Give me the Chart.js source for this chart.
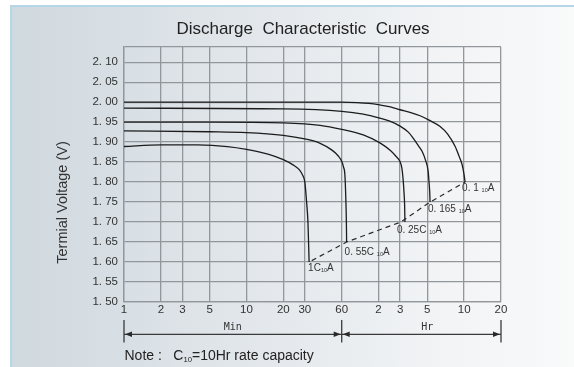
<!DOCTYPE html>
<html>
<head>
<meta charset="utf-8">
<script src="https://cdn.jsdelivr.net/npm/chart.js@4.4.0/dist/chart.umd.min.js"></script>
<style>
    html, body { margin: 0; padding: 0; background: #fff; }
    body { width: 574px; height: 367px; position: relative; overflow: hidden; }
    #painel {
        position: absolute; left: 10px; top: 5px; right: 0; bottom: 0;
        border-top: 2px solid #b5d6e6; border-left: 2px solid #b5d6e6;
        background: linear-gradient(to right, #d0d9df 0%, #e1e6ea 40%, #f1f3f5 75%, #f9fafa 100%);
    }
    #chartDescarga { position: absolute; left: 0; top: 0; }
</style>
</head>
<body>
<div id="painel"></div>
<canvas id="chartDescarga" width="574" height="367"></canvas>
<script>
// eixo x em minutos (escala log), rotulos como no grafico original
const tempos = [1, 2, 3, 5, 10, 20, 30, 60, 120, 180, 300, 600, 1200]
const rotulosTempo = ['1', '2', '3', '5', '10', '20', '30', '60', '2', '3', '5', '10', '20']
const tensoes = [1.50, 1.55, 1.60, 1.65, 1.70, 1.75, 1.80, 1.85, 1.90, 1.95, 2.00, 2.05, 2.10]
const tensaoMax = 2.138

// curvas [minutos, volts]
const curva1C = [[1, 1.889], [2, 1.893], [4, 1.893], [7, 1.889], [10, 1.882], [15, 1.870], [20, 1.856], [24, 1.843], [27, 1.831], [29, 1.815], [30, 1.80], [31, 1.75], [31.8, 1.70], [32.5, 1.60]]
const curva055C = [[1, 1.928], [5, 1.926], [10, 1.924], [20, 1.917], [30, 1.908], [40, 1.897], [50, 1.880], [56, 1.866], [60, 1.852], [62, 1.838], [63.7, 1.818], [64.8, 1.76], [65.5, 1.70], [65.8, 1.65]]
const curva025C = [[1, 1.95], [5, 1.95], [20, 1.948], [40, 1.942], [60, 1.932], [90, 1.918], [123, 1.898], [150, 1.879], [167, 1.864], [180, 1.851], [186, 1.835], [190, 1.81], [194, 1.77], [196, 1.74], [197, 1.70]]
const curva0165C = [[1, 1.985], [20, 1.983], [60, 1.977], [90, 1.970], [123, 1.960], [150, 1.952], [180, 1.940], [210, 1.925], [230, 1.910], [255, 1.890], [272, 1.877], [290, 1.855], [305, 1.827], [310, 1.80], [314, 1.775], [316, 1.75]]
const curva01C = [[1, 2.0], [60, 2.0], [80, 1.999], [100, 1.997], [123, 1.993], [150, 1.988], [180, 1.981], [220, 1.974], [262, 1.966], [310, 1.955], [382, 1.939], [440, 1.920], [507, 1.889], [545, 1.865], [578, 1.843], [598, 1.82], [611, 1.80]]
const fimDescarga = [[32.5, 1.60], [65.8, 1.65], [182, 1.70], [316, 1.75], [611, 1.80]]

const curvas = [curva1C, curva055C, curva025C, curva0165C, curva01C]
const rotulosCorrente = [
    ['1C', '10', 'A'],
    ['0. 55C ', '10', 'A'],
    ['0. 25C ', '10', 'A'],
    ['0. 165 ', '10', 'A'],
    ['0. 1 ', '10', 'A'],
]
const deslocRotulos = [[-1, 6], [-2, 10], [-8, 8], [-2, 7], [-3, 6]]

const fonte = '"Liberation Sans", Arial, sans-serif'
Chart.defaults.font.family = fonte
Chart.defaults.color = '#333'

function pontos(lista) {
    return lista.map(p => ({ x: p[0], y: p[1] }))
}

function textoComIndice(ctx, partes, x, y, tam) {
    let px = x
    partes.forEach((parte, i) => {
        const sub = i === 1
        ctx.font = (sub ? tam * 0.55 : tam) + 'px ' + fonte
        ctx.fillText(parte, px, sub ? y + tam * 0.22 : y)
        px += ctx.measureText(parte).width
    })
}

function linha(ctx, x1, y1, x2, y2) {
    ctx.beginPath()
    ctx.moveTo(x1, y1)
    ctx.lineTo(x2, y2)
    ctx.stroke()
}

function seta(ctx, x, y, dir) {
    ctx.beginPath()
    ctx.moveTo(x, y)
    ctx.lineTo(x - dir * 7, y - 2.8)
    ctx.lineTo(x - dir * 7, y + 2.8)
    ctx.closePath()
    ctx.fill()
}

const extras = {
    id: 'extras',
    afterDraw(chart) {
        const ctx = chart.ctx
        const sx = chart.scales.x
        const sy = chart.scales.y
        ctx.save()

        // titulo
        ctx.fillStyle = '#222'
        ctx.font = '17px ' + fonte
        ctx.textAlign = 'center'
        ctx.textBaseline = 'middle'
        ctx.fillText('Discharge  Characteristic  Curves', 303, 29)

        // titulo do eixo y
        ctx.save()
        ctx.translate(63, 202.5)
        ctx.rotate(-Math.PI / 2)
        ctx.font = '14.5px ' + fonte
        ctx.fillStyle = '#333'
        ctx.fillText('Termial Voltage (V)', 0, 0)
        ctx.restore()

        // rotulos das correntes no fim de cada curva
        ctx.textAlign = 'left'
        ctx.fillStyle = '#333'
        curvas.forEach((c, i) => {
            const fim = c[c.length - 1]
            const px = sx.getPixelForValue(fim[0]) + deslocRotulos[i][0]
            const py = sy.getPixelForValue(fim[1]) + deslocRotulos[i][1]
            textoComIndice(ctx, rotulosCorrente[i], px, py, 10)
        })

        // cotas Min / Hr
        const xa = sx.getPixelForValue(1)
        const xm = sx.getPixelForValue(60)
        const xb = sx.getPixelForValue(1200)
        const ya = 334.3
        ctx.strokeStyle = '#3a3a3a'
        ctx.fillStyle = '#2a2a2a'
        ctx.lineWidth = 1.3
        ;[xa, xm, xb].forEach(px => linha(ctx, px, 320, px, 342.5))
        linha(ctx, xa, ya, xb, ya)
        seta(ctx, xa + 1, ya, -1)
        seta(ctx, xm - 1, ya, 1)
        seta(ctx, xm + 1, ya, -1)
        seta(ctx, xb - 1, ya, 1)
        ctx.font = '10px "DejaVu Sans Mono", monospace'
        ctx.textAlign = 'center'
        ctx.fillStyle = '#333'
        ctx.fillText('Min', (xa + xm) / 2, 327.5)
        ctx.fillText('Hr', (xm + xb) / 2 + 6, 327.5)

        // nota
        ctx.textAlign = 'left'
        ctx.fillStyle = '#222'
        ctx.font = '14px ' + fonte
        ctx.fillText('Note :', 124.5, 356.5)
        textoComIndice(ctx, ['C', '10', '=10Hr rate capacity'], 173.3, 356.5, 14)

        ctx.restore()
    }
}

const corGrade = '#92979b'

const datasets = curvas.map(c => ({
    data: pontos(c),
    borderColor: '#1c1c1c',
    borderWidth: 1.3,
    pointRadius: 0,
    cubicInterpolationMode: 'monotone',
    fill: false,
}))
datasets.push({
    data: pontos(fimDescarga),
    borderColor: '#2a2a2a',
    borderWidth: 1.2,
    borderDash: [5, 4],
    borderDashOffset: -3,
    pointRadius: 0,
    tension: 0,
    fill: false,
})

const config = {
    type: 'line',
    data: { datasets: datasets },
    options: {
        responsive: false,
        animation: false,
        devicePixelRatio: 1,
        layout: { padding: { top: 47, right: 73, bottom: 0, left: 0 } },
        plugins: {
            legend: { display: false },
            title: { display: false },
            tooltip: { enabled: false },
        },
        scales: {
            x: {
                type: 'logarithmic',
                min: 1,
                max: 1200,
                afterBuildTicks: s => { s.ticks = tempos.map(v => ({ value: v })) },
                afterFit: s => { s.height = 65 },
                ticks: {
                    autoSkip: false,
                    maxRotation: 0,
                    padding: 1,
                    font: { size: 11.5 },
                    color: '#333',
                    callback: (v, i) => rotulosTempo[i],
                },
                grid: { color: corGrade, lineWidth: 1.3, drawTicks: false },
                border: { color: corGrade, width: 1.3 },
            },
            y: {
                type: 'linear',
                min: 1.5,
                max: tensaoMax,
                afterBuildTicks: s => { s.ticks = tensoes.concat([tensaoMax]).map(v => ({ value: v })) },
                afterFit: s => { s.width = 124 },
                ticks: {
                    autoSkip: false,
                    padding: 6,
                    font: { size: 11.5 },
                    color: '#333',
                    callback: (v, i) => i < tensoes.length ? tensoes[i].toFixed(2).replace('.', '. ') : '',
                },
                grid: { color: corGrade, lineWidth: 1.3, drawTicks: false },
                border: { color: corGrade, width: 1.3 },
            },
        },
    },
    plugins: [extras],
}

new Chart(document.getElementById('chartDescarga'), config)
</script>
</body>
</html>
